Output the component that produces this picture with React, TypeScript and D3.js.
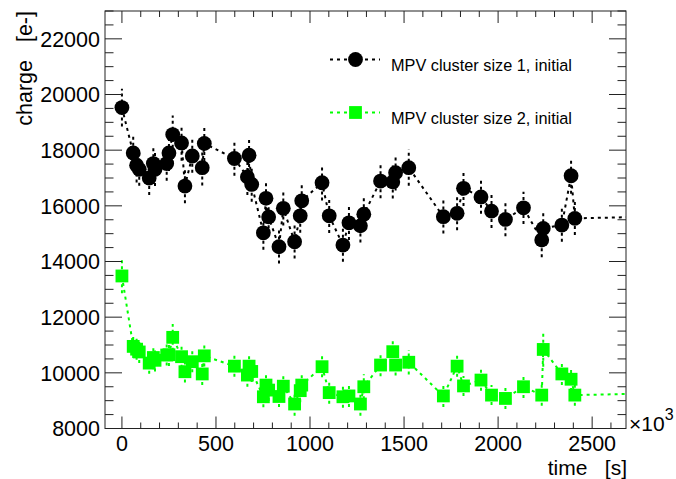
import React from "react";
import * as d3 from "d3";

const times = [0, 60, 78, 92, 145, 167, 176, 238, 250, 270, 317, 335, 374, 427, 438, 598, 667, 676, 690, 752, 766, 780, 835, 858, 918, 948, 956, 1064, 1102, 1175, 1207, 1268, 1286, 1375, 1440, 1455, 1525, 1709, 1782, 1816, 1909, 1965, 2039, 2135, 2232, 2240, 2339, 2388, 2408];

const size1 = [19530, 17900, 17460, 17310, 17000, 17520, 17310, 17520, 17900, 18560, 18260, 16710, 17790, 17370, 18240, 17700, 17040, 17820, 16770, 15030, 16270, 15600, 14530, 15910, 14710, 15640, 16180, 16830, 15640, 14590, 15390, 15280, 15700, 16890, 16860, 17190, 17370, 15610, 15730, 16630, 16320, 15810, 15510, 15930, 14770, 15190, 15310, 17080, 15550];
const size1Err = [680, 600, 620, 590, 610, 640, 600, 620, 650, 690, 640, 620, 600, 640, 630, 620, 650, 640, 620, 610, 640, 620, 600, 620, 600, 610, 630, 640, 620, 600, 620, 600, 610, 620, 600, 640, 650, 600, 610, 640, 600, 610, 600, 580, 620, 640, 600, 650, 600];

const size2 = [13480, 10950, 10850, 10750, 10350, 10550, 10450, 10640, 10650, 11275, 10580, 10040, 10400, 9960, 10610, 10240, 9920, 10240, 10050, 9140, 9560, 9380, 9150, 9520, 8880, 9360, 9560, 10220, 9290, 9140, 9170, 8880, 9500, 10280, 10760, 10280, 10380, 9170, 10240, 9530, 9740, 9200, 9080, 9500, 9200, 10840, 9960, 9770, 9200];
const size2Err = [620, 420, 380, 400, 380, 420, 400, 380, 400, 480, 400, 390, 380, 400, 380, 380, 420, 400, 380, 380, 400, 390, 380, 400, 420, 420, 400, 380, 400, 390, 400, 420, 450, 400, 380, 380, 440, 400, 380, 360, 380, 360, 380, 400, 380, 620, 400, 420, 380];

// line continues past the frame edge
const tailTime = 2750;
const size1Tail = 15600;
const size2Tail = 9250;

const xMajor = [0, 500, 1000, 1500, 2000, 2500];
const yMajor = [8000, 10000, 12000, 14000, 16000, 18000, 20000, 22000];

const legendLabels = ["MPV cluster size 1, initial", "MPV cluster size 2, initial"];
const GREEN = "#00ff00";
const FONT = "'Liberation Sans', Arial, Helvetica, sans-serif";

export default function App() {
  const L = 105, R = 626, T = 11, B = 428.5;
  const x = d3.scaleLinear().domain([-90, 2680]).range([L, R]);
  const y = d3.scaleLinear().domain([8000, 23000]).range([B, T]);

  const xMinor = d3.range(0, 2700, 100).filter((v) => v <= 2680);
  const yMinor = d3.range(8000, 23001, 500);

  const line = d3
    .line<[number, number]>()
    .x((d) => x(d[0]))
    .y((d) => y(d[1]));

  const pts1: [number, number][] = times.map((t, i) => [t, size1[i]]);
  pts1.push([tailTime, size1Tail]);
  const pts2: [number, number][] = times.map((t, i) => [t, size2[i]]);
  pts2.push([tailTime, size2Tail]);

  const r = 7.4;
  const sq = 12.8;

  return (
    <div style={{ position: "absolute", left: 0, top: 0 }}>
      <svg width={676} height={479} style={{ display: "block", background: "#fff" }} fontFamily={FONT}>
        <defs>
          <clipPath id="frame">
            <rect x={L} y={T} width={R - L} height={B - T} />
          </clipPath>
        </defs>

        {/* data */}
        <g clipPath="url(#frame)">
          <path d={line(pts2) || ""} fill="none" stroke={GREEN} strokeWidth={2} strokeDasharray="3 4" />
          <path d={line(pts1) || ""} fill="none" stroke="#000" strokeWidth={2} strokeDasharray="3 4" />
          {times.map((t, i) => (
            <line key={"e2" + i} x1={x(t)} x2={x(t)} y1={y(size2[i] - size2Err[i])} y2={y(size2[i] + size2Err[i])} stroke={GREEN} strokeWidth={2} strokeDasharray="3 3" />
          ))}
          {times.map((t, i) => (
            <rect key={"m2" + i} x={x(t) - sq / 2} y={y(size2[i]) - sq / 2} width={sq} height={sq} fill={GREEN} />
          ))}
          {times.map((t, i) => (
            <line key={"e1" + i} x1={x(t)} x2={x(t)} y1={y(size1[i] - size1Err[i])} y2={y(size1[i] + size1Err[i])} stroke="#000" strokeWidth={2} strokeDasharray="3 3" />
          ))}
          {times.map((t, i) => (
            <circle key={"m1" + i} cx={x(t)} cy={y(size1[i])} r={r} fill="#000" />
          ))}
        </g>

        {/* frame */}
        <rect x={L} y={T} width={R - L} height={B - T} fill="none" stroke="#222" strokeWidth={1} />

        {/* x ticks */}
        {xMinor.map((v) => {
          const major = v % 500 === 0;
          const len = major ? 12 : 6;
          return (
            <g key={"xt" + v} stroke="#222" strokeWidth={1}>
              <line x1={x(v)} x2={x(v)} y1={B} y2={B - len} />
              <line x1={x(v)} x2={x(v)} y1={T} y2={T + len} />
            </g>
          );
        })}
        {/* y ticks */}
        {yMinor.map((v) => {
          const major = v % 2000 === 0;
          const len = major ? 17 : 8.5;
          return (
            <g key={"yt" + v} stroke="#222" strokeWidth={1}>
              <line x1={L} x2={L + len} y1={y(v)} y2={y(v)} />
              <line x1={R} x2={R - len} y1={y(v)} y2={y(v)} />
            </g>
          );
        })}

        {/* tick labels */}
        {xMajor.map((v) => (
          <text key={"xl" + v} x={x(v)} y={451} textAnchor="middle" fontSize={21.5} fill="#000">
            {v}
          </text>
        ))}
        {yMajor.map((v) => (
          <text key={"yl" + v} x={100} y={y(v) + 7.8} textAnchor="end" fontSize={21.5} fill="#000">
            {v}
          </text>
        ))}

        {/* exponent */}
        <text x={629} y={431} fontSize={21} fill="#000">
          ×10
          <tspan dy={-11} fontSize={16}>3</tspan>
        </text>

        {/* axis titles */}
        <text x={627} y={475} textAnchor="end" fontSize={21} fill="#000" style={{ whiteSpace: "pre" }}>
          {"time   [s]"}
        </text>
        <text transform="translate(32,11) rotate(-90)" textAnchor="end" fontSize={21.5} fill="#000" style={{ whiteSpace: "pre" }}>
          {"charge   [e-]"}
        </text>

        {/* legend */}
        <g>
          <line x1={330} x2={380} y1={59.5} y2={59.5} stroke="#000" strokeWidth={2} strokeDasharray="3 4" />
          <circle cx={355.5} cy={59.5} r={r} fill="#000" />
          <text x={391} y={70.7} fontSize={16.3} fill="#000">{legendLabels[0]}</text>
          <line x1={330} x2={380} y1={112.5} y2={112.5} stroke={GREEN} strokeWidth={2} strokeDasharray="3 4" />
          <rect x={355.5 - sq / 2} y={112.5 - sq / 2} width={sq} height={sq} fill={GREEN} />
          <text x={391} y={124.3} fontSize={16.3} fill="#000">{legendLabels[1]}</text>
        </g>
      </svg>
    </div>
  );
}
